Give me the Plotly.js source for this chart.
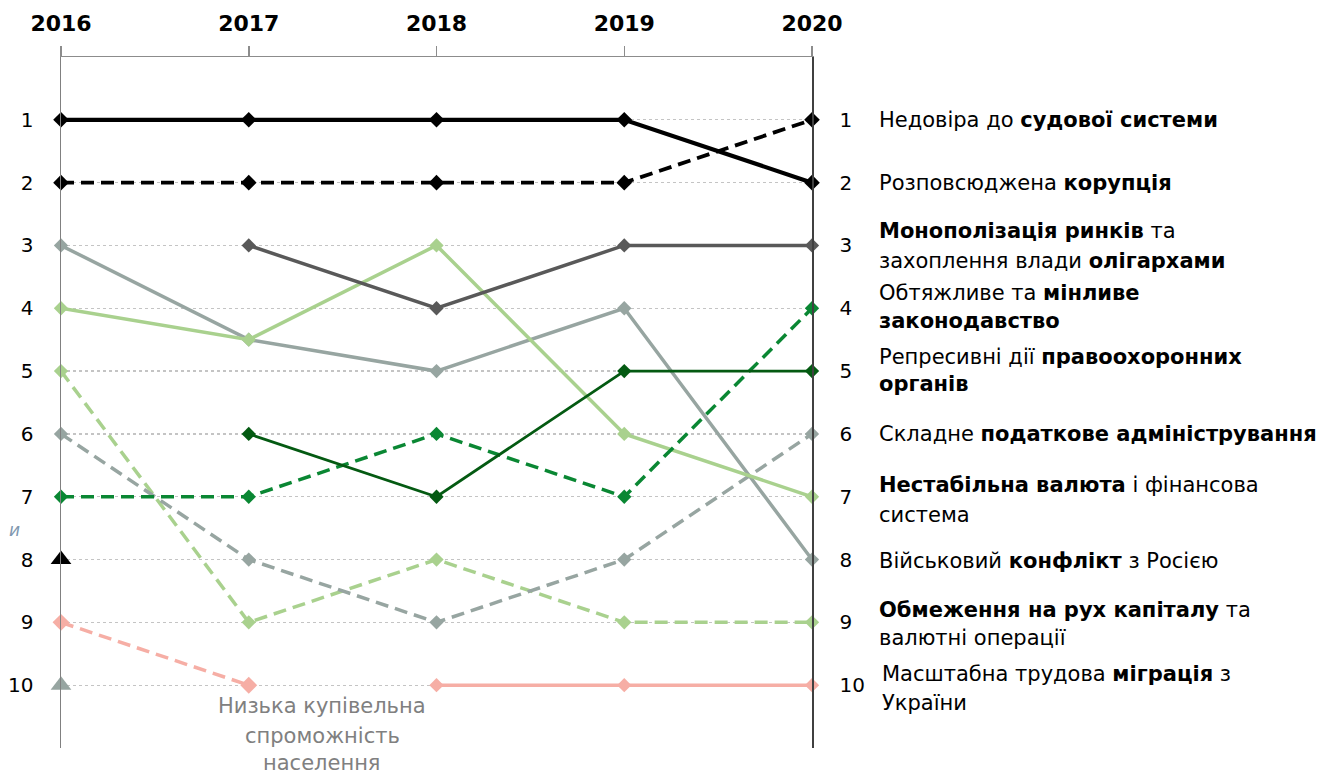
<!DOCTYPE html>
<html>
<head>
<meta charset="utf-8">
<script src="https://cdn.plot.ly/plotly-3.0.1.min.js"></script>
<style>html,body{margin:0;padding:0;background:#fff;}#chart{width:1341px;height:775px;}</style>
</head>
<body>
<div id="chart"></div>
<script>
// ---- data ----
const years = [2016, 2017, 2018, 2019, 2020];
const rankTicks = [1, 2, 3, 4, 5, 6, 7, 8, 9, 10, 11];
const rankLabels = ['1', '2', '3', '4', '5', '6', '7', '8', '9', '10', ''];

const judicial     = [1, 1, 1, 1, 2];          // black solid
const corruption   = [2, 2, 2, 2, 1];          // black dashed
const monopoly     = [null, 3, 4, 3, 3];       // dark grey solid
const greySolid    = [3, 4.5, 5, 4, 8];        // grey solid
const lightGreen   = [4, 4.5, 3, 6, 7];        // light green solid
const darkGreen    = [null, 6, 7, 5, 5];       // dark green solid
const greenDashed  = [7, 7, 6, 7, 4];          // green dashed
const greyDashed   = [6, 8, 9, 8, 6];          // grey dashed
const lightDashed  = [5, 9, 8, 9, 9];          // light green dashed
const pinkDashed   = [9, 10, null, null, null];// pink dashed (purchasing power)
const pinkSolid    = [null, null, 10, 10, 10]; // pink solid (migration)
const triBlack     = [8, null, null, null, null];
const triGrey      = [10, null, null, null, null];

const rightLabels = [
  'Недовіра до <b>судової системи</b>',
  'Розповсюджена <b>корупція</b>',
  '<b>Монополізація ринків</b> та',
  'захоплення влади <b>олігархами</b>',
  'Обтяжливе та <b>мінливе</b>',
  '<b>законодавство</b>',
  'Репресивні дії <b>правоохоронних</b>',
  '<b>органів</b>',
  'Складне <b>податкове адміністрування</b>',
  '<b>Нестабільна валюта</b> і фінансова',
  'система',
  'Військовий <b>конфлікт</b> з Росією',
  '<b>Обмеження на рух капіталу</b> та',
  'валютні операції',
  'Масштабна трудова <b>міграція</b> з',
  'України'
];
const bottomNote = ['Низька купівельна', 'спроможність', 'населення'];

// ---- styling ----
const FONT = 'DejaVu Sans, Verdana, sans-serif';
const C = {
  black: '#000000', darkgrey: '#595959', grey: '#97A5A1', light: '#A9D18E',
  dark: '#045A12', green: '#0A8733', pink: '#F6AEA5'
};
const DASH = '13px,7px';

function tr(y, color, width, dash, msize, symbol) {
  return {
    x: years, y: y, type: 'scatter', mode: 'lines+markers', connectgaps: false,
    cliponaxis: false, hoverinfo: 'skip',
    line: {color: color, width: width, dash: dash || 'solid'},
    marker: {symbol: symbol || 'diamond', size: msize, color: color, line: {width: 0}}
  };
}

const traces = [
  tr(pinkDashed, C.pink, 3.5, DASH, 13),
  tr(pinkSolid, C.pink, 3.5, 'solid', 11),
  tr(lightDashed, C.light, 3.5, DASH, 11),
  tr(greyDashed, C.grey, 3.5, DASH, 11),
  tr(greySolid, C.grey, 3.5, 'solid', 11),
  tr(lightGreen, C.light, 3.5, 'solid', 11),
  tr(monopoly, C.darkgrey, 3.5, 'solid', 11),
  tr(greenDashed, C.green, 3.5, DASH, 11),
  tr(darkGreen, C.dark, 2.8, 'solid', 11),
  tr(corruption, C.black, 3.8, DASH, 12),
  tr(judicial, C.black, 4.2, 'solid', 12),
  {x: years, y: triBlack, type: 'scatter', mode: 'markers', cliponaxis: false, hoverinfo: 'skip',
   marker: {symbol: 'triangle-up', size: 18, color: C.black}},
  {x: years, y: triGrey, type: 'scatter', mode: 'markers', cliponaxis: false, hoverinfo: 'skip',
   marker: {symbol: 'triangle-up', size: 18, color: C.grey}},
  {x: years, y: judicial, yaxis: 'y2', type: 'scatter', mode: 'markers', hoverinfo: 'skip',
   marker: {opacity: 0, size: 1}, showlegend: false}
];

// pixel helpers for text placement (plot area: top 57, height 691)
const T = 57, H = 691;
const py = p => 1 - (p - T) / H;

const rightY = [120, 183, 231, 261, 293, 321, 357, 384, 434, 485, 515, 561, 610, 638, 674, 703];
const annotations = rightLabels.map((t, i) => ({
  text: t, xref: 'x', x: 2020, xshift: i >= 14 ? 68 : 65, xanchor: 'left',
  yref: 'paper', y: py(rightY[i]), yanchor: 'middle', showarrow: false,
  font: {family: FONT, size: 21, color: '#000'}
}));
const noteY = [706, 736, 763];
bottomNote.forEach((t, i) => annotations.push({
  text: t, xref: 'paper', x: (322 - 61) / 751, xanchor: 'center',
  yref: 'paper', y: py(noteY[i]), yanchor: 'middle', showarrow: false,
  font: {family: FONT, size: 21, color: '#808080'}
}));
annotations.push({
  text: '<i>и</i>', xref: 'paper', x: -54 / 751, xanchor: 'left', yref: 'paper', y: py(530),
  yanchor: 'middle', showarrow: false, font: {family: FONT, size: 17, color: '#7F98B0'}
});

const layout = {
  width: 1341, height: 775,
  margin: {l: 61, r: 529, t: 57, b: 27, pad: 0},
  paper_bgcolor: '#fff', plot_bgcolor: '#fff',
  showlegend: false,
  font: {family: FONT, color: '#000'},
  xaxis: {
    range: [2016, 2020], side: 'top', tickvals: years, ticktext: years.map(String),
    showgrid: false, zeroline: false, showline: true, linecolor: '#8C8C8C', linewidth: 1.5,
    ticks: 'outside', ticklen: 10, tickcolor: '#8C8C8C', tickwidth: 1.5,
    ticklabelstandoff: 6,
    tickfont: {family: FONT, size: 22, color: '#000', weight: 'bold'}
  },
  yaxis: {
    range: [11, 0], tickvals: rankTicks, ticktext: rankLabels,
    showgrid: true, gridcolor: '#C4C4C4', griddash: 'dot', gridwidth: 1.2,
    zeroline: false, showline: true, linecolor: '#808080', linewidth: 1.5,
    ticks: '', ticklabelstandoff: 22,
    tickfont: {family: FONT, size: 20, color: '#000'}
  },
  yaxis2: {
    range: [11, 0], overlaying: 'y', side: 'right', tickvals: rankTicks, ticktext: rankLabels,
    showgrid: false, zeroline: false, showline: true, linecolor: '#404040', linewidth: 1.5,
    ticks: '', ticklabelstandoff: 22,
    tickfont: {family: FONT, size: 20, color: '#000'}
  },
  annotations: annotations
};

Plotly.newPlot('chart', traces, layout, {staticPlot: true, displayModeBar: false});
</script>
</body>
</html>
